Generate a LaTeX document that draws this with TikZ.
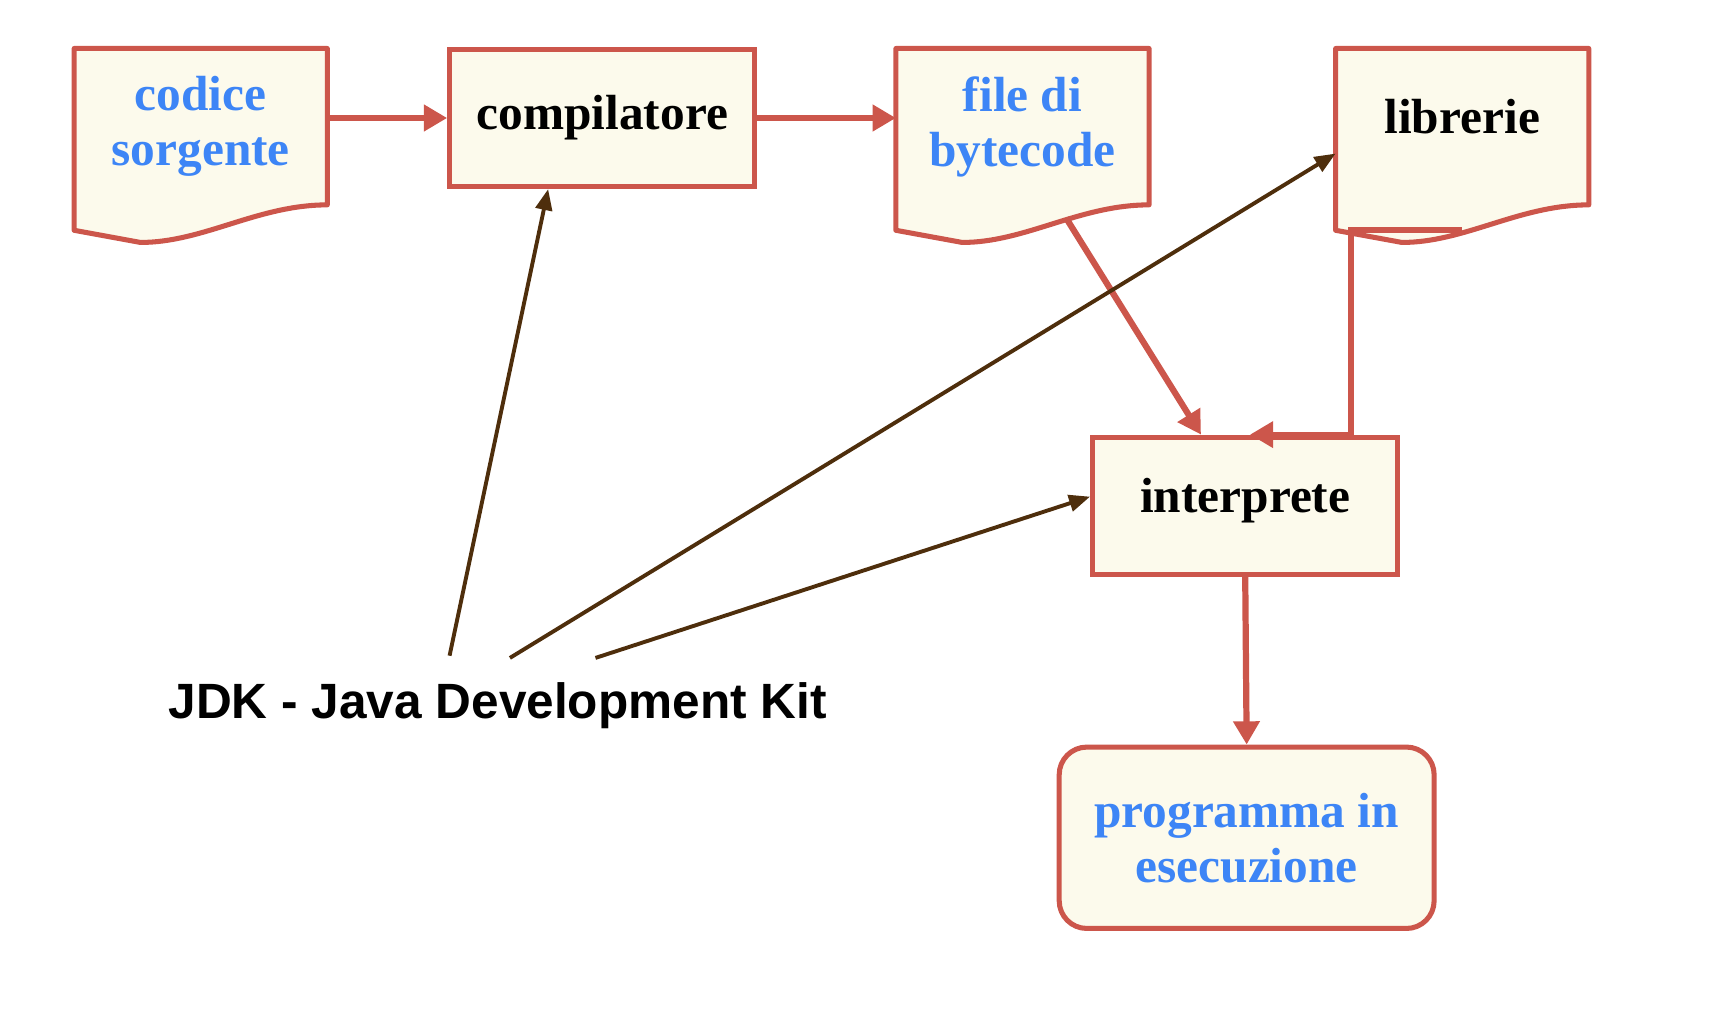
\documentclass[tikz,border=0pt]{standalone}
\usepackage{fontspec}
\setmainfont{Liberation Serif}
\setsansfont{Liberation Sans}
\usetikzlibrary{arrows.meta}
\usetikzlibrary{calc}
\usetikzlibrary{backgrounds}
\definecolor{boxred}{RGB}{204,86,75}
\definecolor{boxfill}{RGB}{252,250,236}
\definecolor{textblue}{RGB}{61,133,246}
\definecolor{kitbrown}{RGB}{78,46,12}
\tikzset{box/.style = {draw=boxred, fill=boxfill, line width=1.3pt,
                       minimum width=2.76cm, minimum height=1.24cm,
                       font=\fontsize{12.7}{14.1}\selectfont\bfseries},
         doc/.style = {minimum width=2.275cm, minimum height=1.40cm, align=center,
                       font=\fontsize{12.7}{14.1}\selectfont\bfseries},
         docline/.style = {draw=boxred, fill=boxfill, line width=1.3pt, line join=round},
         redarrow/.style = {draw=boxred, line width=1.6pt,
                            -{Triangle[length=0.21cm, width=0.23cm]}},
         kitarrow/.style = {draw=kitbrown, line width=1pt,
                            -{Triangle[length=0.19cm, width=0.15cm]}}}

\begin{document}
\begin{tikzpicture}[x=0.01cm, y=-0.01cm]
    \useasboundingbox (0, 0) rectangle (1556, 937);
    \node (codice) at (181.6, 114.6) [doc, text=textblue] {codice\\sorgente};
    \node (compilatore) at (544.9, 106.75) [box] {compilatore};
    \node (bytecode) at (925, 114.6) [doc, text=textblue] {file di\\bytecode};
    \node (librerie) at (1322.8, 114.6) [doc, text depth=5.2pt] {librerie};
    \node (interprete) at (1126.5, 457.5) [box, text depth=5.4pt] {interprete};
    \node (programma) at (1127.8, 757.9) [box, rounded corners=0.25cm, align=center,
      minimum width=3.39cm, minimum height=1.64cm, text=textblue] {programma in\\esecuzione};
    \node (jdk) at (450.3, 638.7) [font=\sffamily\bfseries\fontsize{12.75}{15}\selectfont]
      {JDK - Java Development Kit};
    % sheets with a wavy lower edge
    \begin{scope}[on background layer]
      \foreach \n in {codice, bytecode, librerie}
        \draw [docline] (\n.north west) -- (\n.north east) -- (\n.south east)
          .. controls ($(\n.south east) + (-63, 0)$) and ($(\n.south west) + (117, 34)$)
          .. ($(\n.south west) + (60, 34)$) -- ($(\n.south west) + (0, 23)$) -- cycle;
    \end{scope}
    \draw [redarrow] (codice.east |- compilatore.west) -- (compilatore.west);
    \draw [redarrow] (compilatore.east) -- (compilatore.east -| bytecode.west);
    \draw [redarrow] ($(bytecode.south east) + (-75, 12)$) -- ([xshift=-0.40cm]interprete.north);
    \draw [redarrow] ($(librerie.south west) + (114, 23)$) -- ($(librerie.south west) + (14, 23)$)
      |- ([xshift=0.043cm]interprete.north);
    \draw [redarrow] (interprete.south) -- (programma.north);
    % JDK tools
    \coordinate (jdkA) at (406.7, 593.2);
    \coordinate (jdkB) at (461.3, 595.2);
    \coordinate (jdkC) at (538.7, 595.2);
    \draw [kitarrow] (jdkA) -- ([xshift=-0.49cm]compilatore.south);
    \draw [kitarrow] (jdkB) -- ([yshift=-0.243cm]librerie.west);
    \draw [kitarrow] (jdkC) -- ([yshift=0.082cm]interprete.west);
\end{tikzpicture}
\end{document}
